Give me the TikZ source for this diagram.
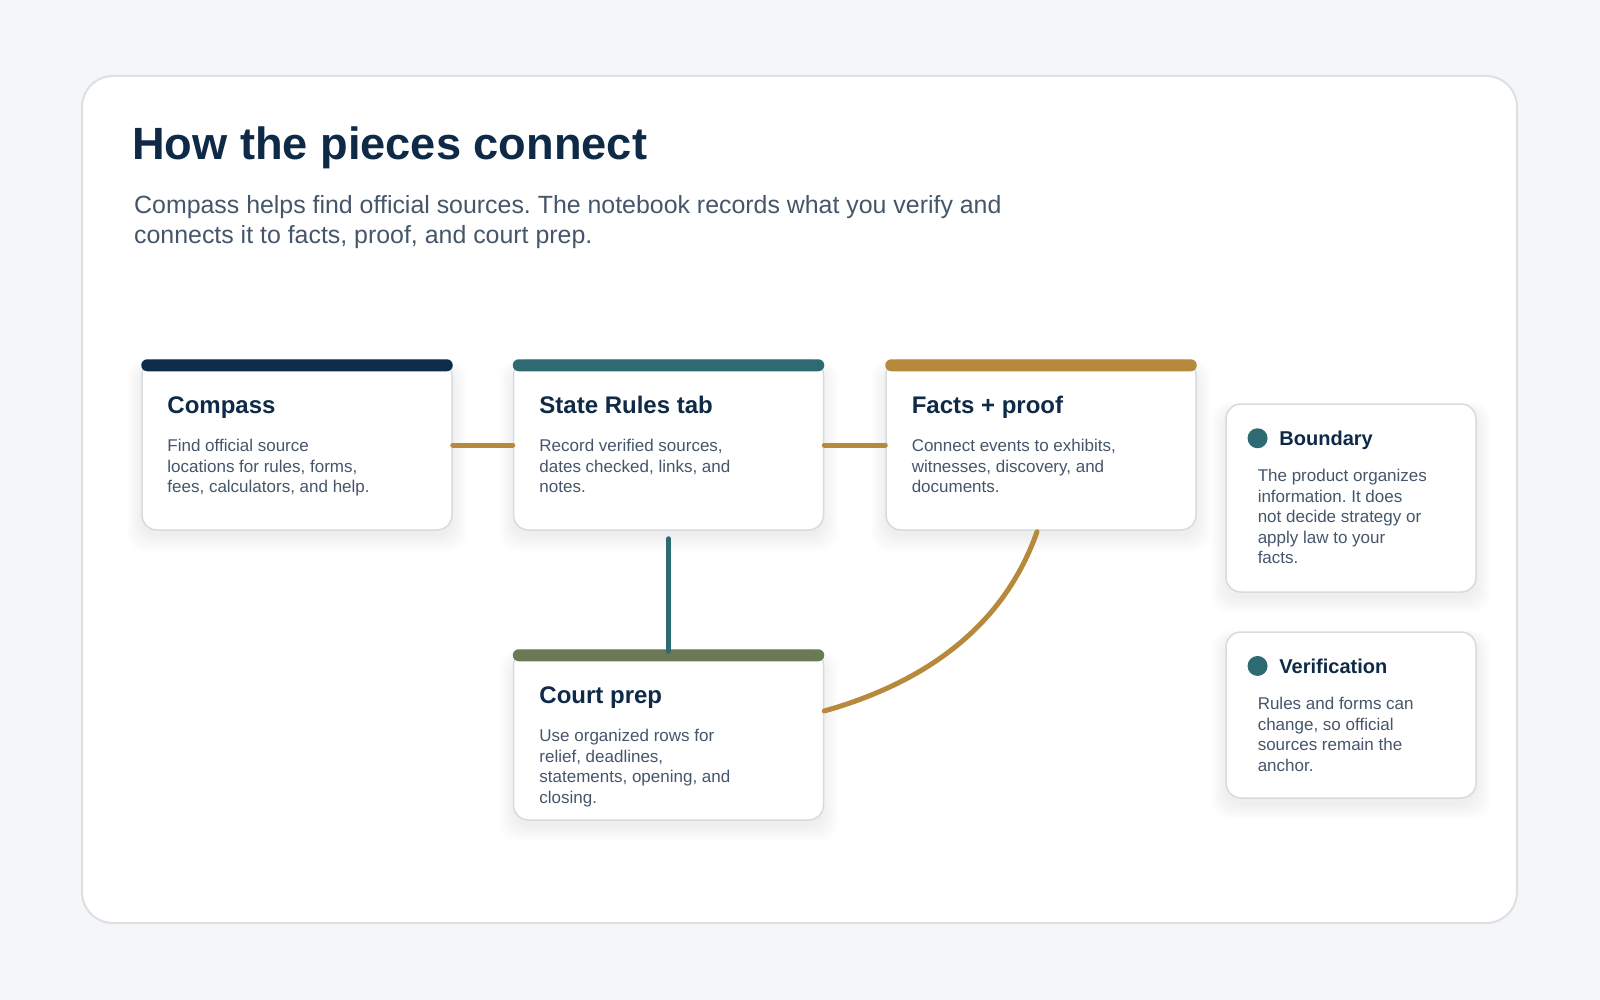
\documentclass[tikz,border=0pt]{standalone}
\usepackage{fontspec}
\setmainfont{Liberation Sans}
\frenchspacing
\definecolor{bg}{HTML}{F5F6F8}
\definecolor{panelborder}{HTML}{DCE0E5}
\definecolor{cardborder}{HTML}{D6DBE1}
\definecolor{ink}{HTML}{0E2A47}
\definecolor{slate}{HTML}{46566A}
\definecolor{navybar}{HTML}{0D2C4B}
\definecolor{tealc}{HTML}{2D6A72}
\definecolor{goldc}{HTML}{B7893C}
\definecolor{olivec}{HTML}{6A7A54}
\newcommand\softshadow[4]{%
  \foreach \s in {1,3,5,7,9,11,13,15}{%
    \fill[black,opacity=0.007,rounded corners=18] (#1-\s,#2+6-\s*0.5) rectangle (#3+\s,#4+6+\s);}}
\begin{document}
\begin{tikzpicture}[x=1pt,y=-1pt,
  cardbox/.style={rectangle, minimum width=310, minimum height=170, inner sep=0,
    draw=cardborder, line width=1.5, fill=white, rounded corners=15},
  sidebox/.style={rectangle, minimum width=250, inner sep=0,
    draw=cardborder, line width=1.5, fill=white, rounded corners=15},
  cardtitle/.style={anchor=base west, inner sep=0, text=ink,
    font=\fontsize{24}{28}\selectfont\bfseries},
  sidetitle/.style={anchor=base west, inner sep=0, text=ink,
    font=\fontsize{20}{24}\selectfont\bfseries},
  bodytext/.style={anchor=base west, inner sep=0, text=slate,
    font=\fontsize{17}{20.5}\selectfont},
  link/.style={line width=5, line cap=round},
  dotmark/.style={circle, fill=tealc, minimum size=20, inner sep=0}
]
\useasboundingbox (0,0) rectangle (1600,1000);
\fill[bg] (0,0) rectangle (1600,1000);
\draw[panelborder, line width=2, fill=white, rounded corners=31] (82,76) rectangle (1517,923);

% heading
\node[anchor=base west, inner sep=0, text=ink, font=\fontsize{45.2}{54}\selectfont\bfseries]
  (title) at (132,160) {How the pieces connect};
\node[anchor=base west, inner sep=0, text=slate, font=\fontsize{24.9}{30}\selectfont]
  (subtitle) at (134,214) {\parbox[t]{1000pt}{Compass helps find official sources. The notebook records what you verify and\\connects it to facts, proof, and court prep.}};

% shadows
\softshadow{142}{362}{452}{530}
\softshadow{514}{362}{823}{530}
\softshadow{886}{362}{1196}{530}
\softshadow{514}{652}{823}{820}
\softshadow{1226}{404}{1476}{592}
\softshadow{1226}{632}{1476}{798}

% cards
\node[cardbox] (compass) at (297,445) {};
\node[cardbox] (state) at (668.5,445) {};
\node[cardbox] (facts) at (1041,445) {};
\node[cardbox] (court) at (668.5,735) {};
\fill[navybar, rounded corners=6] (compass.north west) rectangle ([yshift=-12pt]compass.north east);
\fill[tealc, rounded corners=6] (state.north west) rectangle ([yshift=-12pt]state.north east);
\fill[goldc, rounded corners=6] (facts.north west) rectangle ([yshift=-12pt]facts.north east);
\fill[olivec, rounded corners=6] (court.north west) rectangle ([yshift=-12pt]court.north east);

\node[cardtitle] (compassT) at ([xshift=26pt,yshift=-54pt]compass.north west) {Compass};
\node[bodytext] (compassB) at ([xshift=26pt,yshift=-92.5pt]compass.north west)
  {\parbox[t]{270pt}{Find official source\\locations for rules, forms,\\fees, calculators, and help.}};
\node[cardtitle] (stateT) at ([xshift=26.5pt,yshift=-54pt]state.north west) {State Rules tab};
\node[bodytext] (stateB) at ([xshift=26.5pt,yshift=-92.5pt]state.north west)
  {\parbox[t]{270pt}{Record verified sources,\\dates checked, links, and\\notes.}};
\node[cardtitle] (factsT) at ([xshift=26.3pt,yshift=-54pt]facts.north west) {Facts + proof};
\node[bodytext] (factsB) at ([xshift=26.3pt,yshift=-92.5pt]facts.north west)
  {\parbox[t]{270pt}{Connect events to exhibits,\\witnesses, discovery, and\\documents.}};
\node[cardtitle] (courtT) at ([xshift=26.5pt,yshift=-54pt]court.north west) {Court prep};
\node[bodytext] (courtB) at ([xshift=26.5pt,yshift=-92.5pt]court.north west)
  {\parbox[t]{270pt}{Use organized rows for\\relief, deadlines,\\statements, opening, and\\closing.}};

% side notes
\node[sidebox, minimum height=188] (boundary) at (1351,498) {};
\node[sidebox, minimum height=166] (verif) at (1351,715) {};
\node[dotmark] (bdot) at ([xshift=32.3pt,yshift=-35pt]boundary.north west) {};
\node[sidetitle] (boundaryT) at ([xshift=54pt,yshift=-42.5pt]boundary.north west) {Boundary};
\node[bodytext] (boundaryB) at ([xshift=32.3pt,yshift=-78.3pt]boundary.north west)
  {\parbox[t]{220pt}{The product organizes\\information. It does\\not decide strategy or\\apply law to your\\facts.}};
\node[dotmark] (vdot) at ([xshift=32.3pt,yshift=-34.7pt]verif.north west) {};
\node[sidetitle] (verifT) at ([xshift=54pt,yshift=-42pt]verif.north west) {Verification};
\node[bodytext] (verifB) at ([xshift=32.3pt,yshift=-78.5pt]verif.north west)
  {\parbox[t]{220pt}{Rules and forms can\\change, so official\\sources remain the\\anchor.}};

% connectors
\draw[link, goldc] (compass.east) -- (state.west);
\draw[link, goldc] (state.east) -- (facts.west);
\draw[link, tealc] ([yshift=-8pt]state.south) -- ([yshift=-2pt]court.north);
\draw[link, goldc] ([xshift=-4pt,yshift=-1pt]facts.south) .. controls (1006,620) and (934,680) .. ([yshift=24pt]court.east);
\end{tikzpicture}
\end{document}
